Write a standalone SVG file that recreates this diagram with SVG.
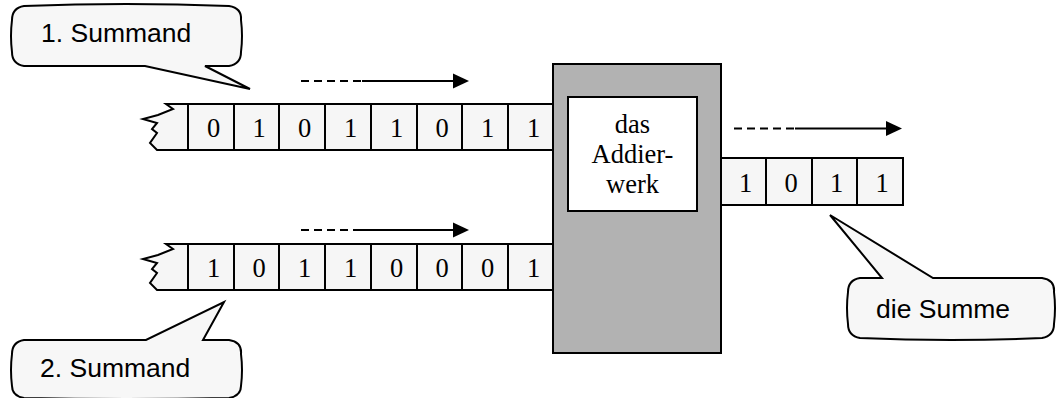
<svg xmlns="http://www.w3.org/2000/svg" width="1061" height="398" viewBox="0 0 1061 398">
  <defs>
    <style>
      .cell { fill: #f6f6f6; stroke: #000; stroke-width: 2; }
      .sep { stroke: #000; stroke-width: 2; }
      .digit { font-family: "Liberation Serif", "Times New Roman", serif; font-size: 26.5px; fill: #000; text-anchor: middle; }
      .label { font-family: "Liberation Sans", Arial, sans-serif; font-size: 26.5px; fill: #000; }
      .bubble { fill: #f7f7f7; stroke: #000; stroke-width: 2; stroke-linejoin: miter; }
      .dash { stroke: #000; stroke-width: 2; stroke-dasharray: 8 5; fill: none; }
      .solid { stroke: #000; stroke-width: 2; fill: none; }
      .head { fill: #000; }
    </style>
  </defs>
  <rect width="1061" height="398" fill="#fff"/>

  <!-- first input register -->
  <g id="register-a">
    <path class="cell" d="M166,104 L554,104 L554,150 L157,150 L150,143 L157,133 L152,129 L157,123 L143,119 L158,115 L173,109 Z"/>
    <g class="sep">
      <line x1="188" y1="104" x2="188" y2="150"/>
      <line x1="234" y1="104" x2="234" y2="150"/>
      <line x1="279" y1="104" x2="279" y2="150"/>
      <line x1="325" y1="104" x2="325" y2="150"/>
      <line x1="371" y1="104" x2="371" y2="150"/>
      <line x1="417" y1="104" x2="417" y2="150"/>
      <line x1="462" y1="104" x2="462" y2="150"/>
      <line x1="508" y1="104" x2="508" y2="150"/>
    </g>
    <g class="digit">
      <text x="213.5" y="137">0</text>
      <text x="259" y="137">1</text>
      <text x="304.5" y="137">0</text>
      <text x="350.5" y="137">1</text>
      <text x="396.5" y="137">1</text>
      <text x="442" y="137">0</text>
      <text x="487.5" y="137">1</text>
      <text x="533.5" y="137">1</text>
    </g>
  </g>

  <!-- second input register -->
  <g id="register-b">
    <path class="cell" d="M166,244 L554,244 L554,290 L157,290 L150,283 L157,273 L152,269 L157,263 L143,259 L158,255 L173,249 Z"/>
    <g class="sep">
      <line x1="188" y1="244" x2="188" y2="290"/>
      <line x1="234" y1="244" x2="234" y2="290"/>
      <line x1="279" y1="244" x2="279" y2="290"/>
      <line x1="325" y1="244" x2="325" y2="290"/>
      <line x1="371" y1="244" x2="371" y2="290"/>
      <line x1="417" y1="244" x2="417" y2="290"/>
      <line x1="462" y1="244" x2="462" y2="290"/>
      <line x1="508" y1="244" x2="508" y2="290"/>
    </g>
    <g class="digit">
      <text x="213.5" y="277">1</text>
      <text x="259" y="277">0</text>
      <text x="304.5" y="277">1</text>
      <text x="350.5" y="277">1</text>
      <text x="396.5" y="277">0</text>
      <text x="442" y="277">0</text>
      <text x="487.5" y="277">0</text>
      <text x="533.5" y="277">1</text>
    </g>
  </g>

  <!-- adder unit -->
  <g id="adder">
    <rect x="553" y="64" width="168" height="289" fill="#b2b2b2" stroke="#000" stroke-width="2"/>
    <rect x="568" y="97" width="129" height="114" fill="#fff" stroke="#000" stroke-width="2"/>
    <g class="digit">
      <text x="632.5" y="133">das</text>
      <text x="632.5" y="163">Addier-</text>
      <text x="632.5" y="193">werk</text>
    </g>
  </g>

  <!-- result register -->
  <g id="register-sum">
    <rect class="cell" x="721" y="158" width="182" height="47"/>
    <g class="sep">
      <line x1="766" y1="158" x2="766" y2="205"/>
      <line x1="812" y1="158" x2="812" y2="205"/>
      <line x1="857" y1="158" x2="857" y2="205"/>
    </g>
    <g class="digit">
      <text x="745.5" y="192">1</text>
      <text x="791" y="192">0</text>
      <text x="836.5" y="192">1</text>
      <text x="882" y="192">1</text>
    </g>
  </g>

  <!-- shift direction arrows -->
  <g id="connectors">
    <line class="dash" x1="301" y1="81" x2="362" y2="81"/>
    <line class="solid" x1="362" y1="81" x2="455" y2="81"/>
    <polygon class="head" points="453,73.5 469,81 453,88.5"/>

    <line class="dash" x1="301" y1="230" x2="358" y2="230"/>
    <line class="solid" x1="358" y1="230" x2="455" y2="230"/>
    <polygon class="head" points="453,222.5 469,230 453,237.5"/>

    <line class="dash" x1="734" y1="128.5" x2="795" y2="128.5"/>
    <line class="solid" x1="795" y1="128.5" x2="888" y2="128.5"/>
    <polygon class="head" points="886,121 902,128.5 886,136"/>
  </g>

  <!-- callouts -->
  <g id="callout-summand-1">
    <path class="bubble" d="M24,6 Q126,2 229,6 Q242,8 241,20 Q243,36 241,52 Q241,64 229,66 L205,66 L250,89 L145,66 L24,66 Q12,64 12,52 Q10,36 12,20 Q12,8 24,6 Z"/>
    <text class="label" x="41" y="42">1. Summand</text>
  </g>

  <g id="callout-summand-2">
    <path class="bubble" d="M24,340 L146,340 L224,302 L203,340 L229,340 Q242,342 241,354 Q243,370 241,386 Q241,396 229,398 Q126,400 24,398 Q12,396 12,386 Q10,370 12,354 Q12,342 24,340 Z"/>
    <text class="label" x="40" y="377">2. Summand</text>
  </g>

  <g id="callout-sum">
    <path class="bubble" d="M860,278 L882,278 L830,215 L933,278 L1042,278 Q1055,280 1054,292 Q1056,308 1054,324 Q1054,336 1042,338 Q951,342 860,338 Q848,336 848,324 Q846,308 848,292 Q848,280 860,278 Z"/>
    <text class="label" x="876" y="318">die Summe</text>
  </g>
</svg>
